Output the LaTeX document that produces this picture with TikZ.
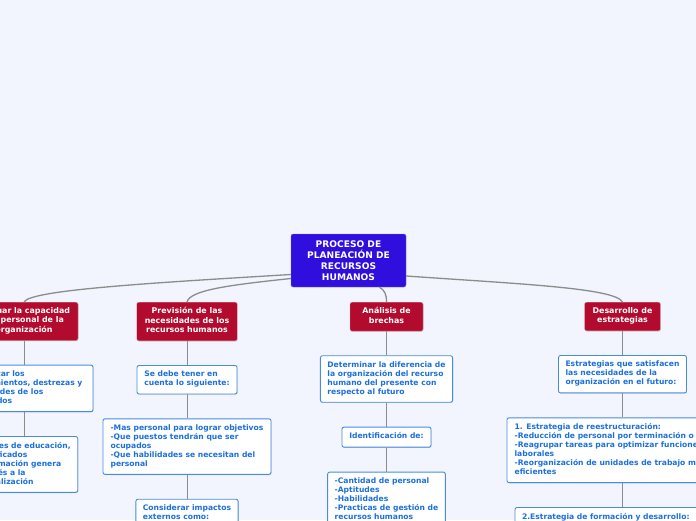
\documentclass[tikz,border=0pt]{standalone}
\usepackage{fontspec}
\setmainfont{DejaVu Sans}
\usepackage{xcolor}
\usepackage{tikz}
\usetikzlibrary{positioning,shadows}
\definecolor{mmbg}{RGB}{242,245,254}
\definecolor{mmroot}{RGB}{48,14,222}
\definecolor{mmred}{RGB}{178,11,46}
\definecolor{mmblue}{RGB}{28,112,222}
\definecolor{mmedge}{RGB}{70,140,230}
\definecolor{mmline}{RGB}{140,140,140}
\tikzstyle{rootbox}=[rectangle,rounded corners=2pt,fill=mmroot,draw=mmroot!60!white,
  text=white,font=\fontsize{9.1}{11}\selectfont\bfseries,align=center,
  inner xsep=8pt,inner ysep=0pt]
\tikzstyle{branch}=[rectangle,rounded corners=2pt,fill=mmred,draw=mmred!40!white,
  text=white,font=\fontsize{7.9}{9.7}\selectfont\bfseries,align=center,
  inner xsep=8pt,inner ysep=5pt,execute at begin node=\strut,execute at end node=\strut,
  drop shadow={shadow xshift=0.5pt,shadow yshift=-0.7pt,opacity=0.3}]
\tikzstyle{leaf}=[rectangle,rounded corners=2pt,fill=white,draw=mmedge,line width=0.9pt,
  text=mmblue,font=\fontsize{7.6}{9}\selectfont\bfseries,align=left,
  inner xsep=7pt,inner ysep=5.5pt,execute at begin node=\strut,execute at end node=\strut,
  drop shadow={shadow xshift=0.5pt,shadow yshift=-0.7pt,opacity=0.3}]
\tikzstyle{curve}=[draw=mmline,line width=1.3pt]
\tikzstyle{link}=[draw=mmline,line width=1pt]

\begin{document}
\begin{tikzpicture}[x=1pt,y=-1pt,node distance=24pt]

  \useasboundingbox (0,0) rectangle (696,520);
  \clip (0,0) rectangle (696,520);
  \fill[mmbg] (0,0) rectangle (696,520);

  % Nodo central
  \node[rootbox,minimum width=115pt,minimum height=53pt] (root) at (348.5,260.5)
    {PROCESO DE\\PLANEACIÓN DE\\RECURSOS\\ HUMANOS};

  % Ramas
  \node[branch,minimum width=106pt,anchor=north] (evaluar)    at (24,302)
    {Evaluar la capacidad\\del personal de la\\organización};
  \node[branch,minimum width=100pt,anchor=north] (prevision)  at (187,302)
    {Previsión de las\\necesidades de los\\recursos humanos};
  \node[branch,minimum width=73pt,anchor=north]  (analisis)   at (386.5,302)
    {Análisis de\\brechas};
  \node[branch,minimum width=75pt,anchor=north]  (desarrollo) at (622.5,302)
    {Desarrollo de\\estrategias};

  % Columna evaluar
  \node[leaf,minimum width=138pt,below=of evaluar] (ev1)
    {Identificar los\\conocimientos, destrezas y\\habilidades de los\\empleados};
  \node[leaf,minimum width=106pt,below=of ev1] (ev2)
    {Niveles de educación,\\certificados\\Información genera\\interés a la\\actualización};

  % Columna prevision
  \node[leaf,minimum width=100pt,below=of prevision] (pr1)
    {Se debe tener en\\cuenta lo siguiente:};
  \node[leaf,minimum width=168pt,below=of pr1] (pr2)
    {-Mas personal para lograr objetivos\\-Que puestos tendrán que ser\\ocupados\\-Que habilidades se necesitan del\\personal};
  \node[leaf,minimum width=102pt,below=of pr2] (pr3)
    {Considerar impactos\\externos como:};

  % Columna analisis
  \node[leaf,minimum width=131pt,below=of analisis] (an1)
    {Determinar la diferencia de\\la organización del recurso\\humano del presente con\\respecto al futuro};
  \node[leaf,minimum width=89pt,below=of an1] (an2)
    {Identificación de:};
  \node[leaf,minimum width=117pt,below=of an2] (an3)
    {-Cantidad de personal\\-Aptitudes\\-Habilidades\\-Practicas de gestión de\\recursos humanos};

  % Columna desarrollo
  \node[leaf,minimum width=127pt,below=of desarrollo] (de1)
    {Estrategias que satisfacen\\las necesidades de la\\organización en el futuro:};
  \node[leaf,minimum width=231pt,below=of de1] (de2)
    {1. Estrategia de reestructuración:\\-Reducción de personal por terminación o despido\\-Reagrupar tareas para optimizar funciones\\laborales\\-Reorganización de unidades de trabajo más\\eficientes};
  \node[leaf,text width=201pt,below=of de2] (de3)
    {2.Estrategia de formación y desarrollo:};

  % Conexiones
  \draw[curve] ([yshift=-14pt]root.west) .. controls +(-141,8.5) and +(6,-12) .. (evaluar.north);
  \draw[curve] ([yshift=-18pt]root.west) .. controls +(-61,6.5) and +(3,-12) .. (prevision.north);
  \draw[curve] ([xshift=31pt]root.south) .. controls +(5,3) and +(0,-8) .. (analisis.north);
  \draw[curve] ([yshift=-15.5pt]root.east) .. controls +(114,8) and +(-7.5,-14) .. (desarrollo.north);
  \draw[link] (evaluar) -- (ev1);
  \draw[link] (ev1) -- (ev2);
  \draw[link] (prevision) -- (pr1);
  \draw[link] (pr1) -- (pr2);
  \draw[link] (pr2) -- (pr3);
  \draw[link] (analisis) -- (an1);
  \draw[link] (an1) -- (an2);
  \draw[link] (an2) -- (an3);
  \draw[link] (desarrollo) -- (de1);
  \draw[link] (de1) -- (de2);
  \draw[link] (de2) -- (de3);

\end{tikzpicture}
\end{document}
